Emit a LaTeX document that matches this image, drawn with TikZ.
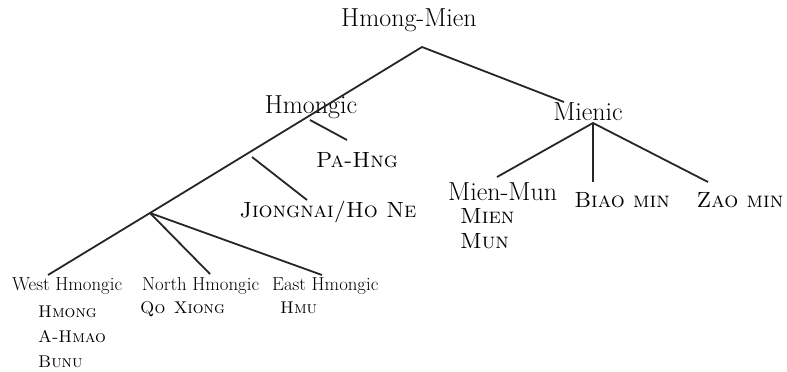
\documentclass[tikz,border=0pt]{standalone}
\begin{document}
\begin{tikzpicture}[x=1pt,y=-1pt,
  big/.style={font=\fontsize{26}{29}\selectfont, inner sep=0pt, anchor=base},
  bigsc/.style={font=\fontsize{22}{25}\selectfont\scshape, inner sep=0pt, anchor=base},
  small/.style={font=\fontsize{18.8}{22}\selectfont, inner sep=0pt, anchor=base west},
  smallsc/.style={font=\fontsize{17}{20}\selectfont\scshape, inner sep=0pt, anchor=base west},
  branch/.style={line width=1.8pt, draw=black!85}]
\useasboundingbox (0,0) rectangle (787,372);

% labels
\node[big] (hm) at (409,27) {Hmong-Mien};
\node[big] (hmongic) at (311,113) {Hmongic};
\node[big] (mienic) at (588,120) {Mienic};
\node[bigsc] (pahng) at (357,167) {Pa-Hng};
\node[bigsc] (jiong) at (328,217) {Jiongnai/Ho Ne};
\node[big,anchor=base west] (mienmun) at (448,200) {Mien-Mun};
\node[bigsc,anchor=base west] (mien) at (460,223) {Mien};
\node[bigsc,anchor=base west] (mun) at (460,248) {Mun};
\node[bigsc] (biao) at (622,207) {Biao min};
\node[bigsc] (zao) at (740,207) {Zao min};

\node[small] (west) at (12,290) {West Hmongic};
\node[smallsc] (hmong) at (38,317) {Hmong};
\node[smallsc] (ahmao) at (38,342) {A-Hmao};
\node[smallsc] (bunu) at (38,367) {Bunu};
\node[small] (north) at (142,290) {North Hmongic};
\node[smallsc] (qo) at (140,313) {Qo\enspace Xiong};
\node[small] (east) at (272,290) {East Hmongic};
\node[smallsc] (hmu) at (280,313) {Hmu};

% branch points and line ends
\coordinate (apex) at (422,47);
\coordinate (wj) at (150,213);
\coordinate (mtop) at (564,102);
\coordinate (mj) at (593,123);
\coordinate (pa1) at (310,120);
\coordinate (pa2) at (347,140);
\coordinate (ji1) at (252,157);
\coordinate (ji2) at (307,200);
\coordinate (mm) at (497,177);
\coordinate (bi) at (593,182);
\coordinate (za) at (708,182);
\coordinate (we) at (48,275);
\coordinate (no) at (210,274);
\coordinate (ea) at (322,275);

% connectors
\draw[branch] (wj) -- (apex) -- (mtop);
\draw[branch] (pa1) -- (pa2);
\draw[branch] (ji1) -- (ji2);
\draw[branch] (mm) -- (mj) -- (za);
\draw[branch] (mj) -- (bi);
\draw[branch] (we) -- (wj) -- (ea);
\draw[branch] (wj) -- (no);
\end{tikzpicture}
\end{document}
